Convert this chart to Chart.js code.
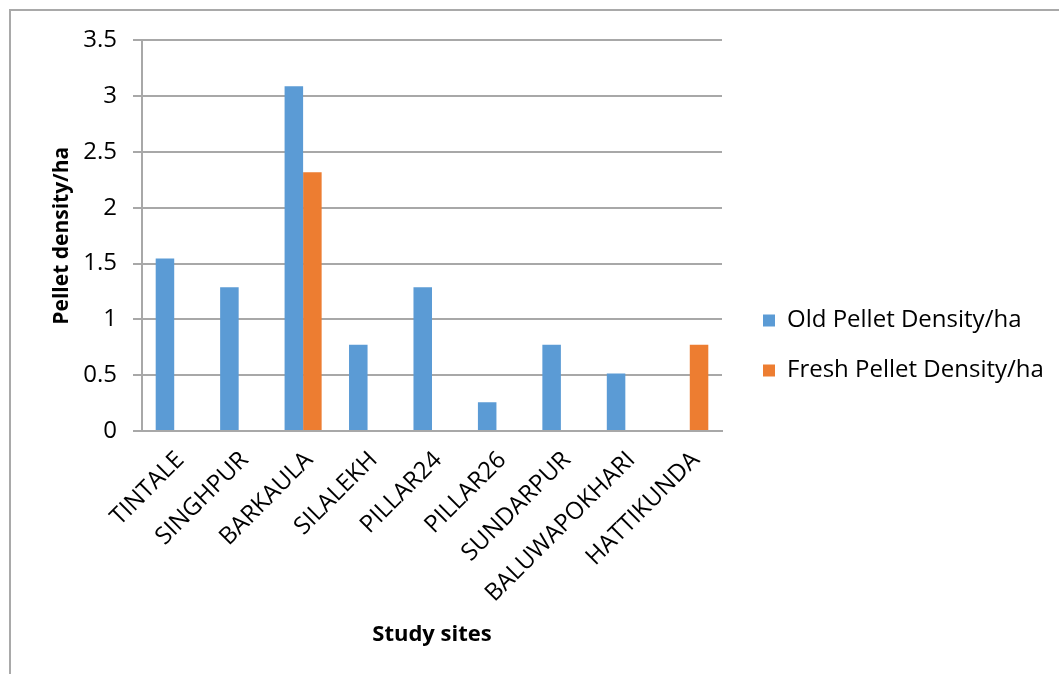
<!DOCTYPE html>
<html>
<head>
<meta charset="utf-8">
<title>Pellet density by study site</title>
<script src="https://cdn.jsdelivr.net/npm/chart.js@4.4.1/dist/chart.umd.min.js"></script>
<style>
  html, body { margin: 0; padding: 0; background: #fff; overflow: hidden; }
  #frame {
    position: absolute; left: 9px; top: 9px; width: 1060px; height: 680px;
    border-left: 2px solid #a9a9a9; border-top: 2px solid #a9a9a9;
  }
  #pelletChart { position: absolute; left: 10px; top: 10px; }
</style>
</head>
<body>
<div id="frame"></div>
<canvas id="pelletChart" width="1100" height="664"></canvas>
<script>
const sites = ['TINTALE', 'SINGHPUR', 'BARKAULA', 'SILALEKH', 'PILLAR24', 'PILLAR26', 'SUNDARPUR', 'BALUWAPOKHARI', 'HATTIKUNDA'];
const oldPellets = [1.545, 1.288, 3.09, 0.773, 1.288, 0.258, 0.773, 0.515, 0];
const freshPellets = [0, 0, 2.318, 0, 0, 0, 0, 0, 0.773];
const seriesNames = ['Old Pellet Density/ha', 'Fresh Pellet Density/ha'];
const yTicks = { min: 0, max: 3.5, step: 0.5 };

const FONT = "'Open Sans', 'Noto Sans', sans-serif";
const gridGrey = '#a8a8a8';
const legendSize = 24, legendPad = 26, legendBox = 12;
const plotRight = 713, legendLeft = 728;

function draw() {
  const ctx = document.getElementById('pelletChart').getContext('2d');

  // size the right padding so the legend starts just right of the plot
  ctx.font = legendSize + 'px ' + FONT;
  const longest = Math.max(...seriesNames.map(n => ctx.measureText(n).width));
  const legendWidth = legendPad + legendBox + legendSize / 2 + longest + 9;
  const padRight = Math.max(0, ctx.canvas.width - legendLeft - legendWidth);

  new Chart(ctx, {
    type: 'bar',
    data: {
      labels: sites,
      datasets: [
        { label: seriesNames[0], data: oldPellets, backgroundColor: '#5b9bd5' },
        { label: seriesNames[1], data: freshPellets, backgroundColor: '#ed7d31' }
      ]
    },
    options: {
      responsive: false,
      animation: false,
      devicePixelRatio: 1,
      layout: { padding: { left: 39, top: 29, right: padRight, bottom: 22 } },
      datasets: { bar: { categoryPercentage: 0.575, barPercentage: 1.0, borderWidth: 0 } },
      plugins: {
        tooltip: { enabled: false },
        legend: {
          position: 'right',
          align: 'center',
          maxWidth: 420,
          labels: {
            font: { family: FONT, size: legendSize },
            color: '#000',
            boxWidth: legendBox,
            boxHeight: legendBox,
            padding: legendPad
          }
        }
      },
      scales: {
        x: {
          grid: { display: false },
          border: { display: true, color: gridGrey, width: 2 },
          ticks: {
            autoSkip: false,
            minRotation: 45,
            maxRotation: 45,
            padding: 7,
            labelOffset: 6,
            color: '#000',
            font: { family: FONT, size: 24 }
          },
          title: {
            display: true,
            text: 'Study sites',
            color: '#000',
            font: { family: FONT, size: 22, weight: 'bold', lineHeight: 1.2 },
            padding: { top: 0, bottom: 4 }
          },
          afterFit: s => { s.height = 221; }
        },
        y: {
          min: yTicks.min,
          max: yTicks.max,
          grid: { color: gridGrey, lineWidth: 2, tickLength: 9, drawTicks: true },
          border: { display: true, color: gridGrey, width: 2 },
          ticks: {
            stepSize: yTicks.step,
            padding: 16,
            color: '#000',
            font: { family: FONT, size: 24 },
            callback: v => String(v)
          },
          title: {
            display: true,
            text: 'Pellet density/ha',
            color: '#000',
            font: { family: FONT, size: 21, weight: 'bold', lineHeight: 1.2 },
            padding: { top: 0, bottom: 0 }
          },
          afterFit: s => { s.width = 93; }
        },
        gap: {
          position: 'right',
          display: true,
          grid: { display: false },
          border: { display: false },
          ticks: { display: false },
          afterFit: s => { s.width = legendLeft - plotRight; }
        }
      }
    }
  });
}

Promise.all([
  document.fonts.load(legendSize + "px 'Open Sans'"),
  document.fonts.load("bold 22px 'Open Sans'")
]).then(draw, draw);
</script>
</body>
</html>
